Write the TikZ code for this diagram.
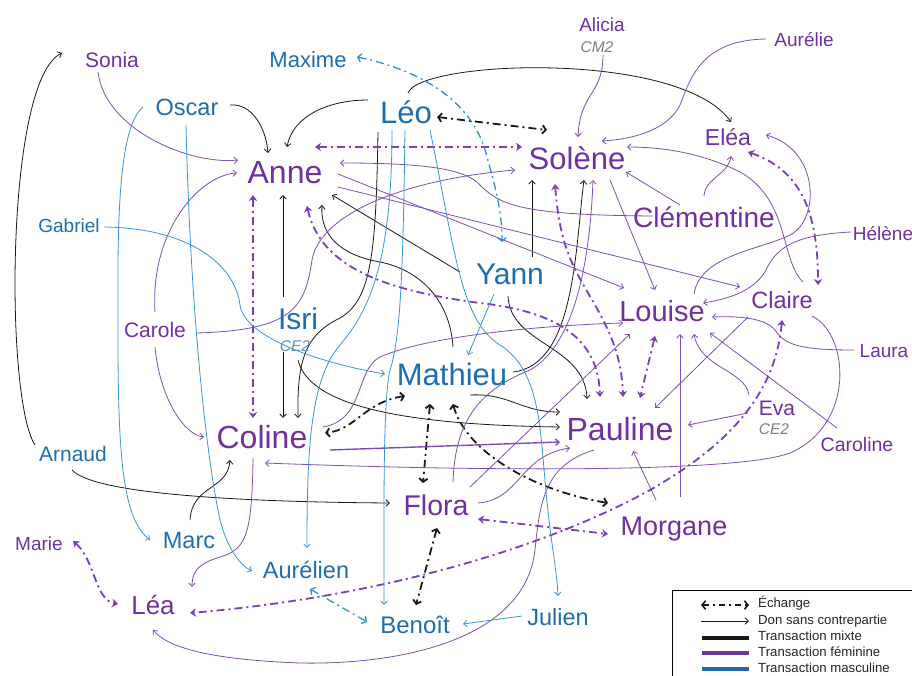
\documentclass[tikz,border=0pt]{standalone}
\usepackage{fontspec}
\setmainfont{Liberation Sans}
\usetikzlibrary{arrows.meta,backgrounds}

\definecolor{txtP}{RGB}{112,48,160}
\definecolor{txtB}{RGB}{30,110,175}
\definecolor{lnP}{RGB}{128,78,178}
\definecolor{lnB}{RGB}{55,150,215}
\definecolor{lnK}{RGB}{25,25,25}
\definecolor{exP}{RGB}{122,62,188}
\definecolor{exB}{RGB}{45,145,210}
\definecolor{gradeK}{RGB}{125,125,125}
\definecolor{gradeB}{RGB}{90,150,190}
\definecolor{barP}{RGB}{105,55,155}
\definecolor{barB}{RGB}{35,100,170}

\newdimen\persdim
\tikzset{
  % a name set at a given size, its centre on the middle of the capitals
  pers/.code={%
    \persdim=#1pt\relax \persdim=0.72\persdim
    \edef\persK{\noexpand\pgfkeysalso{font=\noexpand\fontsize{#1}{#1}\noexpand\selectfont,
      text height=\the\persdim, text depth=0pt, inner sep=0pt}}%
    \persK},
  fem/.style={pers=#1, text=txtP},
  masc/.style={pers=#1, text=txtB},
  grade/.style={pers=15.5, font=\fontsize{15.5}{15.5}\selectfont\itshape},
  legendtext/.style={pers=13.2, anchor=west, text=black!85},
  % gifts: thin arrows
  gift/.style={line width=0.8pt, -{Straight Barb[length=3.5pt,width=6.5pt]}},
  gK/.style={gift, draw=lnK},
  gP/.style={gift, draw=lnP},
  gB/.style={gift, draw=lnB},
  % exchanges: thick dash-dot, both ends
  exch/.style={line width=1.8pt, dash pattern=on 8pt off 4pt on 2pt off 4pt,
    {Straight Barb[length=3.5pt,width=8.5pt]}-{Straight Barb[length=3.5pt,width=8.5pt]}},
  xK/.style={exch, draw=lnK},
  xP/.style={exch, draw=exP,
    {Stealth[length=6pt,width=8.5pt,inset=2pt]}-{Stealth[length=6pt,width=8.5pt,inset=2pt]}},
  xB/.style={exch, draw=exB, line width=1.3pt},
}

\begin{document}
\begin{tikzpicture}[x=1pt,y=-1pt]
\useasboundingbox (0,0) rectangle (912,676);

% ---------- people ----------
\node[fem=32] (Anne) at (285,172) {Anne};
\node[masc=31] (Leo) at (406,112) {Léo};
\node[fem=31] (Solene) at (577,158) {Solène};
\node[masc=30] (Yann) at (510,274) {Yann};
\node[fem=29] (Louise) at (662,311) {Louise};
\node[fem=32] (Pauline) at (620,429) {Pauline};
\node[fem=32] (Coline) at (262,437) {Coline};
\node[masc=31] (Mathieu) at (452,374) {Mathieu};
\node[masc=30] (Isri) at (298,319) {Isri};
\node[grade, text=gradeB] (IsriCE) at (295,346) {CE2};
\node[fem=28.5] (Flora) at (436,505) {Flora};
\node[fem=27] (Morgane) at (674,526) {Morgane};
\node[fem=28] (Clementine) at (704,217) {Clémentine};
\node[fem=23] (Elea) at (728,137) {Eléa};
\node[fem=23.5] (Claire) at (782,300) {Claire};
\node[fem=21] (Eva) at (777,408) {Eva};
\node[grade, text=gradeK] (EvaCE) at (774,429) {CE2};
\node[fem=19.5] (Caroline) at (857,444) {Caroline};
\node[fem=19] (Laura) at (884,351) {Laura};
\node[fem=19] (Helene) at (883,234) {Hélène};
\node[fem=19] (Aurelie) at (804,40) {Aurélie};
\node[fem=19] (Alicia) at (602,25) {Alicia};
\node[grade, text=gradeK] (AliciaCM) at (597,47) {CM2};
\node[fem=21] (Sonia) at (112,60) {Sonia};
\node[masc=22] (Maxime) at (308,60) {Maxime};
\node[masc=23.5] (Oscar) at (187,107) {Oscar};
\node[masc=19] (Gabriel) at (69,226) {Gabriel};
\node[fem=21] (Carole) at (155,330) {Carole};
\node[masc=21] (Arnaud) at (73,454) {Arnaud};
\node[fem=19] (Marie) at (39,544) {Marie};
\node[masc=23.5] (Marc) at (189,540) {Marc};
\node[masc=23.5] (Aurelien) at (306,570) {Aurélien};
\node[fem=26] (Lea) at (153,605) {Léa};
\node[masc=24] (Benoit) at (415,625) {Benoît};
\node[masc=23.5] (Julien) at (558,617) {Julien};

% ---------- legend ----------
\node[legendtext] (lgX) at (758,603) {Échange};
\node[legendtext] (lgD) at (758,620) {Don sans contrepartie};
\node[legendtext] (lgK) at (758,636) {Transaction mixte};
\node[legendtext] (lgF) at (758,652) {Transaction féminine};
\node[legendtext] (lgM) at (758,668) {Transaction masculine};

\begin{pgfonlayer}{background}
\fill[white] (0,0) rectangle (912,676);

% legend frame and samples
\draw[line width=0.8pt] (672,590) rectangle (940,700);
\draw[xK, line width=1.6pt, dash pattern=on 6pt off 4pt on 2pt off 4pt] ([shift={(-57,2)}]lgX.west) -- ([shift={(-9,2)}]lgX.west);
\draw[gK] ([shift={(-57,1)}]lgD.west) -- ([shift={(-9,1)}]lgD.west);
\draw[line width=4.5pt, lnK] ([shift={(-56,2)}]lgK.west) -- ([shift={(-9,2)}]lgK.west);
\draw[line width=4.5pt, barP] ([shift={(-56,1)}]lgF.west) -- ([shift={(-9,1)}]lgF.west);
\draw[line width=4.5pt, barB] ([shift={(-56,1)}]lgM.west) -- ([shift={(-9,1)}]lgM.west);

% ---------- mixed gifts ----------
\draw[gK] ([shift={(-38,-9)}]Arnaud.center) .. controls (5,400) and (5,80) .. ([shift={(-50,-7)}]Sonia.center);
\draw[gK] ([shift={(43,-2)}]Oscar.center) .. controls (252,103) and (266,128) .. ([shift={(-17,-19)}]Anne.center);
\draw[gK] ([shift={(-38,-12)}]Leo.center) .. controls (330,100) and (293,115) .. ([shift={(2,-25)}]Anne.center);
\draw[gK] ([shift={(2,-19)}]Leo.center) .. controls (420,60) and (680,50) .. ([shift={(3,-15)}]Elea.center);
\draw[gK] ([shift={(-15,-22)}]Isri.center) -- ([shift={(-2,23)}]Anne.center);
\draw[gK] ([shift={(-15,33)}]Isri.center) -- ([shift={(21,-19)}]Coline.center);
\draw[gK] ([shift={(-28,20)}]Leo.center) .. controls (376,250) and (372,300) .. (340,318)
  .. controls (305,335) and (297,360) .. ([shift={(36,-19)}]Coline.center);
\draw[gK] ([shift={(0,41)}]Isri.center) .. controls (310,410) and (420,425) .. ([shift={(-60,-2)}]Pauline.center);
\draw[gK] ([shift={(18,21)}]Mathieu.center) .. controls (510,393) and (520,412) .. ([shift={(-60,-17)}]Pauline.center);
\draw[gK] ([shift={(1,-27)}]Mathieu.center) .. controls (450,300) and (420,270) .. (380,262)
  .. controls (340,255) and (320,235) .. ([shift={(37,33)}]Anne.center);
\draw[gK] ([shift={(-50,-2)}]Yann.center) -- ([shift={(47,23)}]Anne.center);
\draw[gK] ([shift={(22,-17)}]Yann.center) -- ([shift={(-45,22)}]Solene.center);
\draw[gK] ([shift={(-2,22)}]Yann.center) .. controls (510,345) and (585,345) .. ([shift={(-33,-30)}]Pauline.center);
\draw[gK] ([shift={(61,-2)}]Mathieu.center) .. controls (575,365) and (575,250) .. ([shift={(7,22)}]Solene.center);
\draw[gK] ([shift={(1,-20)}]Marc.center) .. controls (192,485) and (228,490) .. ([shift={(-32,23)}]Coline.center);
\draw[gK] ([shift={(-1,16)}]Arnaud.center) .. controls (95,495) and (250,502) .. ([shift={(-46,-2)}]Flora.center);

% ---------- mixed exchanges ----------
\draw[xK] ([shift={(31,5)}]Leo.center) -- ([shift={(-30,-28)}]Solene.center);
\draw[xK] ([shift={(-47,22)}]Mathieu.center) .. controls (365,402) and (355,430) .. ([shift={(63,-4)}]Coline.center);
\draw[xK] ([shift={(-22,30)}]Mathieu.center) -- ([shift={(-13,-22)}]Flora.center);
\draw[xK] ([shift={(1,30)}]Mathieu.center) .. controls (465,450) and (530,490) .. ([shift={(-66,-23)}]Morgane.center);
\draw[xK] ([shift={(1,23)}]Flora.center) -- ([shift={(1,-20)}]Benoit.center);

% ---------- female gifts ----------
\draw[gP] ([shift={(-14,12)}]Sonia.center) .. controls (105,130) and (190,165) .. ([shift={(-47,-12)}]Anne.center);
\draw[gP] ([shift={(0,-18)}]Carole.center) .. controls (150,230) and (200,175) .. ([shift={(-48,1)}]Anne.center);
\draw[gP] ([shift={(0,17)}]Carole.center) .. controls (160,400) and (185,435) .. ([shift={(-58,0)}]Coline.center);
\draw[gP] ([shift={(42,3)}]Carole.center) .. controls (290,330) and (305,310) .. (312,260)
  .. controls (320,215) and (400,180) .. ([shift={(-62,12)}]Solene.center);
\draw[gP] ([shift={(-51,-1)}]Clementine.center) .. controls (520,215) and (500,205) .. (480,185)
  .. controls (465,168) and (420,163) .. ([shift={(55,-9)}]Anne.center);
\draw[gP] ([shift={(53,2)}]Anne.center) -- ([shift={(-38,-23)}]Louise.center);
\draw[gP] ([shift={(53,15)}]Anne.center) -- ([shift={(-42,-13)}]Claire.center);
\draw[gP] ([shift={(61,-10)}]Coline.center) .. controls (365,420) and (355,370) .. (380,357)
  .. controls (430,335) and (550,325) .. ([shift={(-39,12)}]Louise.center);
\draw[gP, line width=1.4pt] ([shift={(68,13)}]Coline.center) -- ([shift={(-60,13)}]Pauline.center);
\draw[gP] ([shift={(30,16)}]Claire.center) .. controls (850,335) and (855,425) .. (790,453)
  .. controls (740,472) and (500,472) .. ([shift={(3,26)}]Coline.center);
\draw[gP] ([shift={(33,22)}]Solene.center) -- ([shift={(-7,-21)}]Louise.center);
\draw[gP] ([shift={(-24,-12)}]Clementine.center) -- ([shift={(49,14)}]Solene.center);
\draw[gP] ([shift={(6,8)}]AliciaCM.center) .. controls (603,95) and (580,92) .. ([shift={(1,-21)}]Solene.center);
\draw[gP] ([shift={(-38,-1)}]Aurelie.center) .. controls (700,40) and (690,80) .. (680,105)
  .. controls (665,135) and (620,140) .. ([shift={(25,-17)}]Solene.center);
\draw[gP] ([shift={(0,-21)}]Clementine.center) .. controls (705,178) and (728,175) .. ([shift={(3,19)}]Elea.center);
\draw[gP] ([shift={(32,-17)}]Louise.center) .. controls (700,255) and (760,250) .. (790,235)
  .. controls (820,220) and (820,150) .. ([shift={(38,-2)}]Elea.center);
\draw[gP] ([shift={(21,-18)}]Claire.center) .. controls (780,260) and (790,200) .. (740,172)
  .. controls (700,152) and (660,147) .. ([shift={(50,-11)}]Solene.center);
\draw[gP] ([shift={(-32,-2)}]Helene.center) .. controls (790,235) and (775,250) .. (765,272)
  .. controls (750,295) and (720,300) .. ([shift={(41,-8)}]Louise.center);
\draw[gP] ([shift={(-30,-1)}]Laura.center) .. controls (800,350) and (785,345) .. (775,330)
  .. controls (765,318) and (740,316) .. ([shift={(50,6)}]Louise.center);
\draw[gP] ([shift={(-20,-16)}]Caroline.center) -- ([shift={(48,22)}]Louise.center);
\draw[gP] ([shift={(-28,-13)}]Eva.center) .. controls (745,370) and (700,368) .. ([shift={(32,23)}]Louise.center);
\draw[gP] ([shift={(6,-29)}]Morgane.center) -- ([shift={(18,23)}]Louise.center);
\draw[gP] ([shift={(-34,17)}]Claire.center) -- ([shift={(35,-21)}]Pauline.center);
\draw[gP] ([shift={(-29,5)}]Eva.center) -- ([shift={(68,-4)}]Pauline.center);
\draw[gP] ([shift={(-18,-26)}]Morgane.center) -- ([shift={(13,22)}]Pauline.center);
\draw[gP] ([shift={(-9,21)}]Coline.center) .. controls (252,540) and (245,550) .. (217,558)
  .. controls (195,565) and (192,575) .. ([shift={(39,-18)}]Lea.center);
\draw[gP] ([shift={(-26,21)}]Pauline.center) .. controls (545,465) and (540,500) .. (535,550)
  .. controls (525,640) and (400,665) .. (300,663)
  .. controls (220,660) and (170,650) .. ([shift={(0,25)}]Lea.center);
\draw[gP] ([shift={(42,-2)}]Flora.center) .. controls (520,500) and (520,455) .. ([shift={(-50,19)}]Pauline.center);
\draw[gP] ([shift={(17,-23)}]Flora.center) .. controls (455,420) and (480,390) .. (530,370)
  .. controls (575,345) and (590,260) .. ([shift={(16,22)}]Solene.center);
\draw[gP] ([shift={(34,-18)}]Flora.center) -- ([shift={(-32,23)}]Louise.center);

% ---------- female exchanges ----------
\draw[xP] ([shift={(30,-25)}]Anne.center) -- ([shift={(-55,-11)}]Solene.center);
\draw[xP] ([shift={(-32,23)}]Anne.center) -- ([shift={(-9,-19)}]Coline.center);
\draw[xP] ([shift={(22,34)}]Anne.center) .. controls (320,265) and (380,290) .. (480,303)
  .. controls (560,312) and (598,340) .. ([shift={(-20,-32)}]Pauline.center);
\draw[xP] ([shift={(-22,26)}]Solene.center) .. controls (560,250) and (575,270) .. (595,305)
  .. controls (612,335) and (622,360) .. ([shift={(3,-32)}]Pauline.center);
\draw[xP] ([shift={(-7,25)}]Louise.center) -- ([shift={(20,-31)}]Pauline.center);
\draw[xP] ([shift={(20,15)}]Elea.center) .. controls (800,170) and (818,210) .. ([shift={(36,-15)}]Claire.center);
\draw[xP] ([shift={(0,20)}]Claire.center) .. controls (775,400) and (720,450) .. (650,490)
  .. controls (560,540) and (400,595) .. ([shift={(37,8)}]Lea.center);
\draw[xP] ([shift={(42,14)}]Flora.center) -- ([shift={(-66,8)}]Morgane.center);
\draw[xP] ([shift={(34,-3)}]Marie.center) .. controls (95,560) and (95,600) .. ([shift={(-35,-1)}]Lea.center);

% ---------- male gifts ----------
\draw[gB] ([shift={(35,1)}]Gabriel.center) .. controls (190,228) and (235,265) .. (240,305)
  .. controls (245,340) and (330,365) .. ([shift={(-67,0)}]Mathieu.center);
\draw[gB] ([shift={(-44,0)}]Oscar.center) .. controls (115,130) and (118,250) .. (118,340)
  .. controls (118,470) and (125,520) .. ([shift={(-39,0)}]Marc.center);
\draw[gB] ([shift={(-1,18)}]Oscar.center) .. controls (190,300) and (205,450) .. (220,520)
  .. controls (228,550) and (240,565) .. ([shift={(-54,1)}]Aurelien.center);
\draw[gB] ([shift={(-14,18)}]Leo.center) .. controls (392,260) and (370,310) .. (340,345)
  .. controls (310,380) and (307,450) .. ([shift={(1,-22)}]Aurelien.center);
\draw[gB] ([shift={(-1,18)}]Leo.center) .. controls (403,280) and (400,340) .. (390,370)
  .. controls (383,400) and (384,500) .. ([shift={(-31,-20)}]Benoit.center);
\draw[gB] ([shift={(24,18)}]Leo.center) .. controls (455,250) and (460,320) .. (500,345)
  .. controls (540,370) and (540,430) .. (545,480)
  .. controls (550,540) and (557,570) .. ([shift={(0,-21)}]Julien.center);
\draw[gB] ([shift={(-16,20)}]Yann.center) -- ([shift={(16,-19)}]Mathieu.center);
\draw[gB] ([shift={(-36,-1)}]Julien.center) -- ([shift={(48,-1)}]Benoit.center);

% ---------- male exchanges ----------
\draw[xB] ([shift={(49,-3)}]Maxime.center) .. controls (420,70) and (470,100) .. (485,150)
  .. controls (495,185) and (502,210) .. ([shift={(-8,-32)}]Yann.center);
\draw[xB] ([shift={(4,19)}]Aurelien.center) -- ([shift={(-48,-3)}]Benoit.center);
\end{pgfonlayer}
\end{tikzpicture}
\end{document}
